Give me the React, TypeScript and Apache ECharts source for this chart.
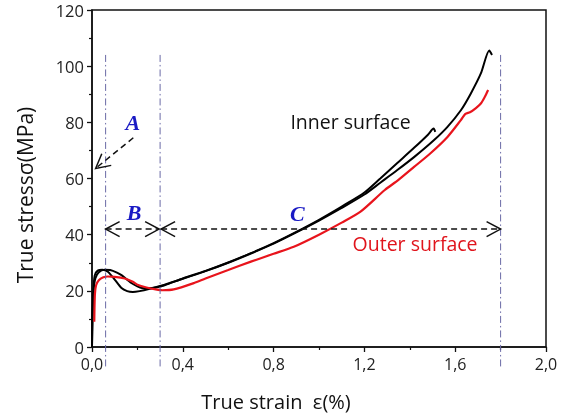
import React, { useEffect, useRef } from "react";
import * as echarts from "echarts";

// Inner surface, specimen 1 (dips after the yield peak, ends at ~105 MPa)
const innerLong: number[][] = [
  [0, 0], [0.002, 10], [0.006, 20], [0.012, 25.5], [0.025, 27.2], [0.045, 27.5], [0.07, 26.8],
  [0.1, 24], [0.13, 21], [0.155, 19.9], [0.18, 19.6], [0.21, 19.9], [0.25, 20.6], [0.3, 21.7],
  [0.4, 24.3], [0.5, 27], [0.6, 30], [0.7, 33.3], [0.8, 36.8], [0.9, 40.8], [1.0, 45],
  [1.1, 49.5], [1.2, 54.3], [1.27, 58.5], [1.345, 63], [1.42, 67.7], [1.507, 73.7],
  [1.566, 78.4], [1.625, 84.3], [1.669, 90.3], [1.713, 97.4], [1.75, 105.6], [1.762, 104],
];

// Inner surface, specimen 2 (gradual softening, ends at ~78 MPa)
const innerShort: number[][] = [
  [0, 0], [0.002, 10], [0.007, 20], [0.015, 24.5], [0.03, 26.6], [0.055, 27.5], [0.08, 27.4],
  [0.11, 26.5], [0.13, 25.6], [0.155, 24], [0.175, 22.7], [0.2, 21.6], [0.22, 21], [0.25, 20.9],
  [0.28, 21.2], [0.32, 22], [0.4, 24.4], [0.5, 27.1], [0.6, 30.1], [0.7, 33.4], [0.8, 37],
  [0.9, 41], [1.0, 45.3], [1.1, 50], [1.2, 55], [1.27, 60], [1.345, 65.5], [1.42, 71],
  [1.48, 75.6], [1.505, 77.8], [1.512, 76.6],
];

// Outer surface
const outer: number[][] = [
  [0.01, 9], [0.011, 14], [0.013, 19], [0.018, 22], [0.03, 23.8], [0.05, 24.8], [0.07, 25.1],
  [0.1, 25], [0.144, 24.4], [0.18, 23.2], [0.2, 22.2], [0.24, 21.2], [0.28, 20.5], [0.31, 20.2],
  [0.36, 20.5], [0.45, 22.8], [0.5, 24.4], [0.6, 27.4], [0.7, 30.4], [0.8, 33.2], [0.889, 35.7],
  [1.0, 40], [1.1, 44.3], [1.183, 48.2], [1.29, 55.9], [1.35, 59.5], [1.42, 64.2], [1.49, 68.9],
  [1.566, 74.8], [1.625, 80.8], [1.645, 83], [1.665, 83.6], [1.69, 85], [1.713, 86.7],
  [1.73, 89], [1.745, 91.5],
];

// Region boundaries (strain) and annotation anchors (data coordinates)
const regionBounds = [0.06, 0.3, 1.8];
const regionTop = 104;
const regionBottom = -8;
const arrowLevel = 42;
const regionLabels = [
  { text: "A", x: 0.18, y: 80 },
  { text: "B", x: 0.185, y: 48 },
  { text: "C", x: 0.905, y: 47.7 },
];
const arrowA = { from: [0.182, 74.5], to: [0.016, 63.6] };
const seriesLabels = [
  { text: "Inner surface", x: 0.874, y: 80.2, color: "#111" },
  { text: "Outer surface", x: 1.148, y: 36.9, color: "#e0141c" },
];

const fmt = (v: number) => v.toFixed(1).replace(".", ",");

export default function App() {
  const ref = useRef<HTMLDivElement>(null);
  useEffect(() => {
    if (!ref.current) return;
    const chart = echarts.init(ref.current, undefined, { renderer: "svg" });
    const font = "'Open Sans', 'Noto Sans', sans-serif";
    chart.setOption({
      animation: false,
      grid: {
        left: 92, right: 27, top: 10, bottom: 72,
        show: true, borderColor: "#111", borderWidth: 1.5, backgroundColor: "transparent",
      },
      xAxis: {
        type: "value", min: 0, max: 2, interval: 0.4,
        axisLine: { show: true, onZero: false, lineStyle: { color: "#111", width: 1.5 } },
        axisTick: { show: true, inside: false, length: 5, lineStyle: { color: "#111", width: 1.3 } },
        minorTick: { show: true, splitNumber: 2, length: 3, lineStyle: { color: "#111", width: 1.2 } },
        splitLine: { show: false },
        axisLabel: { formatter: fmt, fontSize: 16, color: "#222", fontFamily: font, margin: 9, lineHeight: 16 },
      },
      yAxis: {
        type: "value", min: 0, max: 120, interval: 20,
        axisLine: { show: true, onZero: false, lineStyle: { color: "#111", width: 1.5 } },
        axisTick: { show: true, inside: false, length: 5, lineStyle: { color: "#111", width: 1.3 } },
        minorTick: { show: true, splitNumber: 2, length: 3, lineStyle: { color: "#111", width: 1.2 } },
        splitLine: { show: false },
        axisLabel: { fontSize: 16.5, color: "#222", fontFamily: font, margin: 8, lineHeight: 16 },
      },
      series: [
        {
          type: "line", data: innerShort, showSymbol: false, smooth: 0.25, clip: false,
          lineStyle: { color: "#000", width: 2 },
        },
        {
          type: "line", data: innerLong, showSymbol: false, smooth: 0.25, clip: false,
          lineStyle: { color: "#000", width: 2 },
        },
        {
          type: "line", data: outer, showSymbol: false, smooth: 0.25, clip: false,
          lineStyle: { color: "#e8141c", width: 2.2 },
        },
      ],
    });

    const px = (x: number, y: number) => chart.convertToPixel({ gridIndex: 0 }, [x, y]) as number[];
    const head = (tip: number[], from: number[], L: number, W: number) => {
      const dx = tip[0] - from[0];
      const dy = tip[1] - from[1];
      const len = Math.hypot(dx, dy) || 1;
      const ux = dx / len, uy = dy / len;
      const nx = -uy, ny = ux;
      return {
        type: "polyline",
        shape: {
          points: [
            [tip[0] - L * ux + W * nx, tip[1] - L * uy + W * ny],
            tip,
            [tip[0] - L * ux - W * nx, tip[1] - L * uy - W * ny],
          ],
        },
        style: { stroke: "#111", lineWidth: 1.5, fill: null },
        z: 100,
      };
    };
    const dashedArrow = (a: number[], b: number[], both: boolean) => {
      const out: any[] = [
        {
          type: "line",
          shape: { x1: a[0], y1: a[1], x2: b[0], y2: b[1] },
          style: { stroke: "#111", lineWidth: 1.5, lineDash: [6, 4] },
          z: 100,
        },
        head(b, a, 14, 7.5),
      ];
      if (both) out.push(head(a, b, 14, 7.5));
      return out;
    };

    const graphics: any[] = [];
    regionBounds.forEach((x) => {
      const t = px(x, regionTop);
      const b = px(x, regionBottom);
      graphics.push({
        type: "line",
        shape: { x1: t[0], y1: t[1], x2: b[0], y2: b[1] },
        style: { stroke: "#6a6aa6", lineWidth: 1, lineDash: [7, 3, 1.5, 3] },
        z: 90,
      });
    });
    // B and C arrows
    const pB1 = px(regionBounds[0], arrowLevel);
    const pB2 = px(regionBounds[1], arrowLevel);
    const pC1 = px(regionBounds[1], arrowLevel);
    const pC2 = px(regionBounds[2], arrowLevel);
    graphics.push(...dashedArrow(pB1, [pB2[0] - 1, pB2[1]], true));
    graphics.push(...dashedArrow([pC1[0] + 1, pC1[1]], pC2, true));
    // A arrow
    graphics.push(...dashedArrow(px(arrowA.from[0], arrowA.from[1]), px(arrowA.to[0], arrowA.to[1]), false));

    regionLabels.forEach((l) => {
      const p = px(l.x, l.y);
      graphics.push({
        type: "text", x: p[0], y: p[1], z: 110,
        style: {
          text: l.text, fill: "#1a1ac4", align: "center", verticalAlign: "middle",
          font: "italic bold 22px 'Liberation Serif', 'DejaVu Serif', serif",
        },
      });
    });
    seriesLabels.forEach((l) => {
      const p = px(l.x, l.y);
      graphics.push({
        type: "text", x: p[0], y: p[1], z: 110,
        style: {
          text: l.text, fill: l.color, align: "left", verticalAlign: "middle",
          font: `19.5px ${font}`,
        },
      });
    });
    // axis titles
    graphics.push({
      type: "text", x: 276, y: 401, z: 110,
      style: { text: "True strain  \u03b5(%)", fill: "#111", align: "center", verticalAlign: "middle", font: `20px ${font}` },
    });
    graphics.push({
      type: "text", x: 25, y: 195, rotation: Math.PI / 2, z: 110,
      style: { text: "True stress\u03c3(MPa)", fill: "#111", align: "center", verticalAlign: "middle", font: `21px ${font}` },
    });

    chart.setOption({ graphic: graphics });
    return () => chart.dispose();
  }, []);
  return (
    <div
      ref={ref}
      style={{ position: "fixed", left: 0, top: 0, width: 573, height: 419 }}
    />
  );
}
